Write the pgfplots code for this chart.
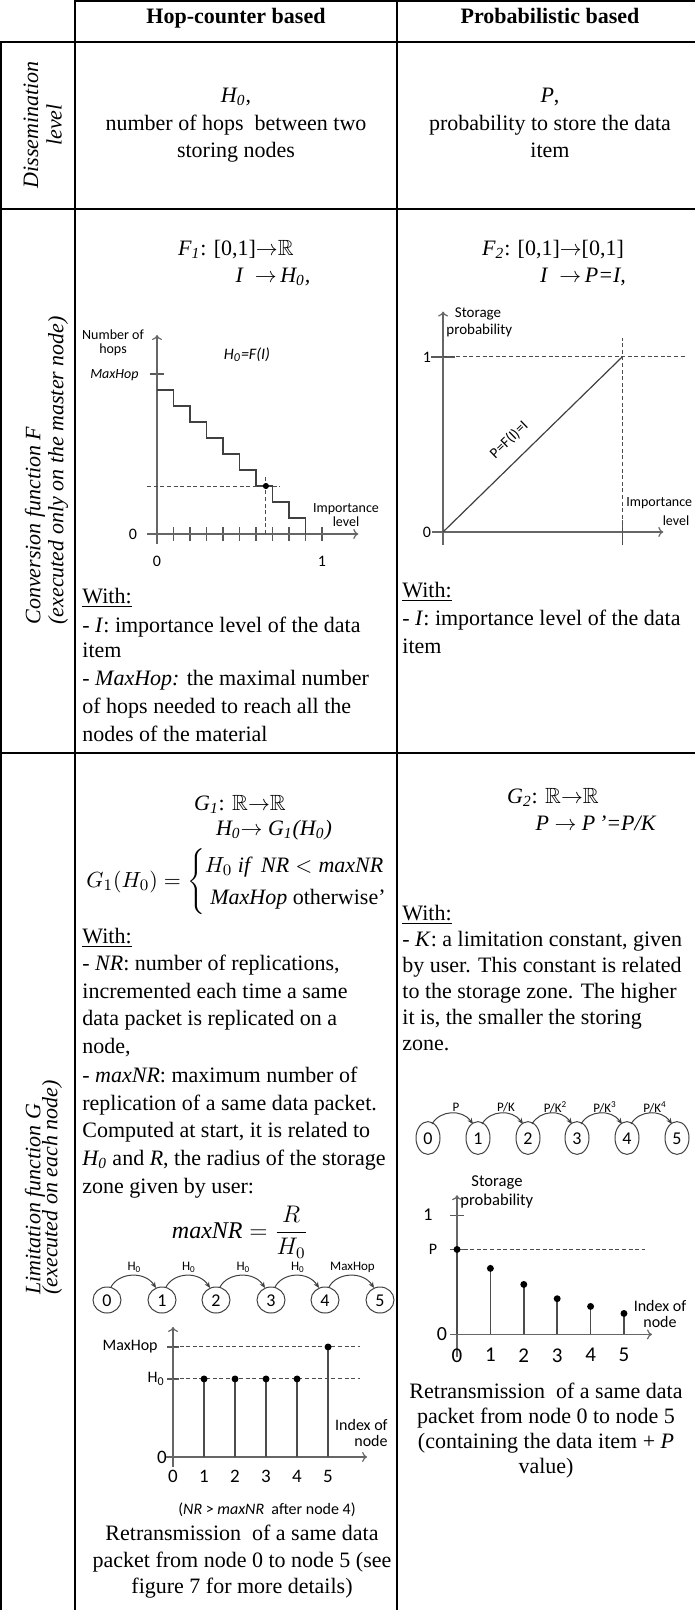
\documentclass[border=0pt]{standalone}
\usepackage{amsmath,amssymb}
\usepackage{fontspec}
\setmainfont{Liberation Serif}
\newfontfamily\calib{Carlito}
\usepackage{pgfplots}
\pgfplotsset{compat=1.18}
\usetikzlibrary{arrows.meta}

\newcommand\bodyf{\fontsize{11}{13.5}\selectfont}
\newcommand\cfs[1]{\calib\fontsize{#1}{#1}\selectfont}
\newcommand\ra{\mathord{\rightarrow}}

\pgfplotsset{
  mini/.style={scale only axis, axis lines=middle, clip=false, anchor=south west,
    axis line style={black!60, line width=0.6pt, -{To[length=2.5pt,width=5pt]}},
    tick style={black!65, line width=0.6pt}, tick align=center,
    hide obscured x ticks=false, hide obscured y ticks=false,
    yticklabels={}, xticklabel style={font=\cfs{8}}},
  guide/.style={black!70, line width=0.5pt, dash pattern=on 2pt off 1.3pt},
  stem/.style={ycomb, black!70, line width=0.8pt, mark=*, mark size=1.3pt,
    mark options={black, solid}},
}
\tikzset{
  ln/.style={inner sep=0pt, font=\bodyf, text height=7.5pt, text depth=2pt},
  lw/.style={ln, anchor=west},
  rl/.style={inner sep=0pt, font=\fontsize{11}{13}\selectfont\itshape, rotate=90},
}

\begin{document}
\begin{tikzpicture}
\useasboundingbox (0pt,0pt) rectangle (347.5pt,-805pt);
\begin{scope}[x=0.5pt,y=-0.5pt]
% table rules
\begin{scope}[line width=1pt]
\draw (75,1) -- (695,1);
\draw (1,42) -- (1,1610);
\draw (75,0) -- (75,1610);
\draw (397,0) -- (397,1610);
\draw (0,42) -- (695,42);
\draw (0,209) -- (695,209);
\draw (0,753) -- (695,753);
\end{scope}

% header
\node[ln, font=\bodyf\bfseries] at (236,18) {Hop-counter based};
\node[ln, font=\bodyf\bfseries] at (550,18) {Probabilistic based};

% row labels
\node[rl] at (31,125) {Dissemination};
\node[rl] at (54,125) {level};
\node[rl, anchor=west] at (35,625) {Conversion function F};
\node[rl, anchor=west] at (58,625) {(executed only on the master node)};
\node[rl, anchor=west] at (35,1295) {Limitation function G};
\node[rl, anchor=west] at (52,1295) {(executed on each node)};

% dissemination level
\node[ln] at (236,97) {\textit{H\textsubscript{0}},};
\node[ln] at (236,125) {number of hops\ \ between two};
\node[ln] at (236,152) {storing nodes};
\node[ln] at (550,97) {\textit{P},};
\node[ln] at (550,125) {probability to store the data};
\node[ln] at (550,152) {item};

% conversion function
\node[ln] at (236,250) {\textit{F\textsubscript{1}}: [0,1]$\ra\mathbb{R}$};
\node[ln] at (273,277) {\textit{I}\ \ $\ra$\,\textit{H\textsubscript{0},}};
\node[ln] at (553,250) {\textit{F\textsubscript{2}}: [0,1]$\ra$[0,1]};
\node[ln] at (583,277) {\textit{I}\ \ $\ra$\,\textit{P=I,}};

\node[lw] at (82,598) {\underline{With:}};
\node[lw] at (82,627) {- \textit{I}: importance level of the data};
\node[lw] at (82,652) {item};
\node[lw] at (82,680) {- \textit{MaxHop:} the maximal number};
\node[lw] at (82,708) {of hops needed to reach all the};
\node[lw] at (82,736) {nodes of the material};

\node[lw] at (402,592) {\underline{With:}};
\node[lw] at (402,620) {- \textit{I}: importance level of the data};
\node[lw] at (402,648) {item};

% chart labels, conversion row
\node[font=\cfs{7}, align=center, inner sep=0pt] at (113,343) {Number of\\hops};
\node[font=\cfs{7}\itshape, anchor=east, inner sep=0pt] at (139,375) {MaxHop};
\node[font=\cfs{8}, inner sep=0pt] at (133,534) {0};
\node[font=\cfs{8}\itshape, inner sep=0pt] at (247,355) {H\textsubscript{0}=F(I)};
\node[font=\cfs{7}, align=center, inner sep=0pt] at (346,515) {Importance\\level};

\node[font=\cfs{8}, inner sep=0pt] at (427,532) {0};
\node[font=\cfs{8}, inner sep=0pt] at (427,357) {1};
\node[font=\cfs{7.5}, inner sep=0pt] at (478,314) {Storage};
\node[font=\cfs{7.5}, anchor=west, inner sep=0pt] at (446,331) {probability};
\node[font=\cfs{7}, anchor=west, inner sep=0pt] at (626,503) {Importance};
\node[font=\cfs{7}, inner sep=0pt] at (676,521) {level};
\node[font=\cfs{7.5}, rotate=44, inner sep=0pt] at (509,440) {P=F(I)=I};

% limitation function
\node[ln] at (240,805) {\textit{G\textsubscript{1}}: $\mathbb{R}\ra\mathbb{R}$};
\node[ln] at (274,830) {\textit{H\textsubscript{0}}$\ra$ \textit{G\textsubscript{1}(H\textsubscript{0})}};
\node[anchor=west, inner sep=0pt, font=\fontsize{11}{13.5}\selectfont] at (86,882)
  {$G_1(H_0) = \begin{cases} H_0\ \mathit{if}\ \ \mathit{NR} < \mathit{maxNR}\\ \ \mathit{MaxHop}\ \text{otherwise’}\end{cases}$};
\node[lw] at (82,938) {\underline{With:}};
\node[lw] at (82,965) {- \textit{NR}: number of replications,};
\node[lw] at (82,993) {incremented each time a same};
\node[lw] at (82,1020) {data packet is replicated on a};
\node[lw] at (82,1048) {node,};
\node[lw] at (82,1077) {- \textit{maxNR}: maximum number of};
\node[lw] at (82,1105) {replication of a same data packet.};
\node[lw] at (82,1132) {Computed at start, it is related to};
\node[lw] at (82,1160) {\textit{H\textsubscript{0}} and \textit{R}, the radius of the storage};
\node[lw] at (82,1188) {zone given by user:};
\node[inner sep=0pt, font=\fontsize{12}{14.5}\selectfont] at (240,1232) {$\mathit{maxNR} = \dfrac{R}{H_0}$};

\node[ln] at (553,798) {\textit{G\textsubscript{2}}: $\mathbb{R}\ra\mathbb{R}$};
\node[ln] at (596,825) {\textit{P} $\ra$ \textit{P\,’=P/K}};
\node[lw] at (402,915) {\underline{With:}};
\node[lw] at (402,941) {- \textit{K}: a limitation constant, given};
\node[lw] at (402,967) {by user. This constant is related};
\node[lw] at (402,993) {to the storage zone. The higher};
\node[lw] at (402,1019) {it is, the smaller the storing};
\node[lw] at (402,1045) {zone.};

% node chains
\foreach \i/\cx in {0/107,1/162,2/216,3/271,4/325,5/380}{
  \draw[black!75, line width=0.5pt] (\cx,1300) ellipse [x radius=7pt, y radius=6.5pt];
  \node[font=\cfs{9}, inner sep=0pt] at (\cx,1301) {\i};
}
\foreach \a/\b/\l in {107/162/{H\textsubscript{0}},162/216/{H\textsubscript{0}},216/271/{H\textsubscript{0}},271/325/{H\textsubscript{0}},325/380/{MaxHop}}{
  \draw[black!75, line width=0.5pt, -{Stealth[length=3pt,width=2.5pt]}]
    (\a+4,1287) .. controls (\a+12,1272) and (\b-17,1271) .. (\b-6,1288);
  \node[font=\cfs{6.5}, inner sep=0pt] at ({(\a+\b)/2},1267) {\l};
}
\foreach \i/\cx in {0/428,1/478,2/528,3/577,4/627,5/677}{
  \draw[black!75, line width=0.5pt] (\cx,1138) ellipse [x radius=6pt, y radius=8.2pt];
  \node[font=\cfs{9}, inner sep=0pt] at (\cx,1139) {\i};
}
\foreach \a/\b/\l in {428/478/{P},478/528/{P/K},528/577/{P/K\textsuperscript{2}},577/627/{P/K\textsuperscript{3}},627/677/{P/K\textsuperscript{4}}}{
  \draw[black!75, line width=0.5pt, -{Stealth[length=3pt,width=2.5pt]}]
    (\a+4,1124) .. controls (\a+12,1110) and (\b-16,1109) .. (\b-5,1124);
  \node[font=\cfs{6.5}, inner sep=0pt] at ({(\a+\b)/2+3},1107) {\l};
}

% stem chart labels
\node[font=\cfs{8}, anchor=east, inner sep=0pt] at (158,1347) {MaxHop};
\node[font=\cfs{8}, anchor=east, inner sep=0pt] at (165,1379) {H\textsubscript{0}};
\node[font=\cfs{9.5}, inner sep=0pt] at (162,1457) {0};
\node[font=\cfs{8}, align=right, anchor=east, inner sep=0pt] at (388,1433) {Index of\\node};
\node[font=\cfs{8}, inner sep=0pt] at (267,1510) {(\textit{NR} > \textit{maxNR}\ \ after node 4)};
\node[ln] at (242,1535) {Retransmission\ \ of a same data};
\node[ln] at (242,1562) {packet from node 0 to node 5 (see};
\node[ln] at (242,1588) {figure 7\ for more details)};

\node[font=\cfs{9}, inner sep=0pt] at (428,1215) {1};
\node[font=\cfs{8}, inner sep=0pt] at (433,1249) {P};
\node[font=\cfs{10}, inner sep=0pt] at (442,1334) {0};
\node[font=\cfs{8.3}, inner sep=0pt] at (497,1183) {Storage};
\node[font=\cfs{8.3}, anchor=west, inner sep=0pt] at (460,1201) {probability};
\node[font=\cfs{8}, align=center, inner sep=0pt] at (660,1314) {Index of\\node};
\node[ln] at (546,1393) {Retransmission\ \ of a same data};
\node[ln] at (546,1418) {packet from node 0 to node 5};
\node[ln] at (546,1443) {(containing the data item + \textit{P}};
\node[ln] at (546,1468) {value)};

\coordinate (A) at (147.1,543.6);
\coordinate (B) at (432.3,545.1);
\coordinate (C) at (165.9,1467.1);
\coordinate (D) at (450,1357);
\end{scope}

% F1: step function
\begin{axis}[mini, at={(A)}, width=105.6pt, height=104.3pt,
  xmin=-0.06, xmax=1.22, ymin=-0.6, ymax=12.44,
  xtick={0,0.1,0.2,0.3,0.4,0.5,0.6,0.7,0.8,0.9,1}, xticklabels={0,,,,,,,,,,1},
  xticklabel style={yshift=-4pt},
  ytick={10}, major tick length=7pt]
\addplot[const plot, black!75, line width=0.7pt] coordinates {(0,9) (0.1,8) (0.2,7) (0.3,6) (0.4,5) (0.5,4) (0.6,3) (0.7,2) (0.8,1) (0.9,0)};
\addplot[guide] coordinates {(-0.06,3) (0.745,3)};
\addplot[guide] coordinates {(0.66,0) (0.66,3.6)};
\addplot[only marks, mark=*, mark size=1.3pt, black] coordinates {(0.66,3)};
\end{axis}

% F2: P = I
\begin{axis}[mini, at={(B)}, width=115.5pt, height=116.8pt,
  xmin=-0.06, xmax=1.23, ymin=-0.075, ymax=1.26,
  xtick={1}, xticklabels={}, ytick={1}, major tick length=12pt]
\addplot[black!75, line width=0.6pt] coordinates {(0,0) (1,1)};
\addplot[guide] coordinates {(0,1) (1.35,1)};
\addplot[guide] coordinates {(1,-0.075) (1,1.11)};
\end{axis}

% G1: hop counter per node
\begin{axis}[mini, at={(C)}, width=100.6pt, height=70.1pt,
  xmin=-0.23, xmax=6.26, ymin=-0.13, ymax=1.667,
  xtick={0,1,2,3,4,5}, xticklabels={0,1,2,3,4,5}, xtick style={draw=none},
  xticklabel style={font=\cfs{9.5}},
  ytick={1,1.41}, major tick length=6pt]
\addplot[guide] coordinates {(0,1.41) (6.03,1.41)};
\addplot[guide] coordinates {(0,1) (6.03,1)};
\addplot[stem] coordinates {(1,1) (2,1) (3,1) (4,1) (5,1.41)};
\end{axis}

% G2: storage probability per node
\begin{axis}[mini, at={(D)}, width=101pt, height=80.9pt,
  xmin=-0.21, xmax=5.84, ymin=-0.19, ymax=1.17,
  xtick={0,1,2,3,4,5}, xticklabels={0,1,2,3,4,5}, xtick style={draw=none},
  xticklabel style={font=\cfs{10.5}},
  ytick={0.714,1}, major tick length=7pt]
\addplot[guide] coordinates {(0,0.714) (5.63,0.714)};
\addplot[stem] coordinates {(0,0.714) (1,0.555) (2,0.42) (3,0.30) (4,0.235) (5,0.176)};
\end{axis}
\end{tikzpicture}
\end{document}
